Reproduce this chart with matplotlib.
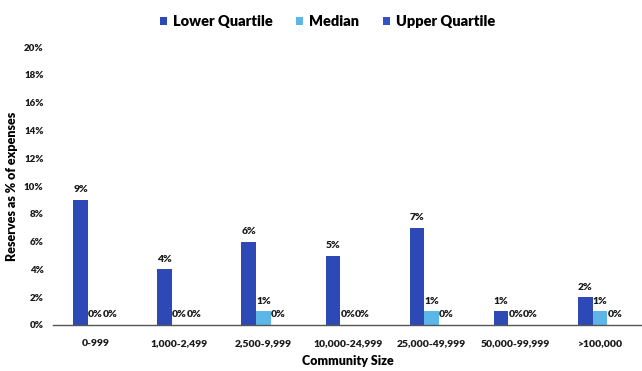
import matplotlib
matplotlib.use("Agg")
import matplotlib.pyplot as plt
import numpy as np

categories = ["0-999", "1,000-2,499", "2,500-9,999", "10,000-24,999",
              "25,000-49,999", "50,000-99,999", ">100,000"]
lower_quartile = [9, 4, 6, 5, 7, 1, 2]
median = [0, 0, 1, 0, 1, 0, 1]
upper_quartile = [0, 0, 0, 0, 0, 0, 0]
y_ticks = [0, 2, 4, 6, 8, 10, 12, 14, 16, 18, 20]

plt.rcParams['font.family'] = ['Lato', 'DejaVu Sans']

fig = plt.figure(figsize=(6.42, 3.71), dpi=100)
ax = fig.add_axes([0.083, 0.124, 0.917, 0.749])

x = np.arange(len(categories))
w = 0.175
colors = ["#2c49b6", "#5db6e8", "#3452c2"]
series = [("Lower Quartile", lower_quartile), ("Median", median), ("Upper Quartile", upper_quartile)]
for i, (name, vals) in enumerate(series):
    bars = ax.bar(x + (i - 1) * w, vals, width=w, color=colors[i], label=name)
    ax.bar_label(bars, labels=[f"{v}%" for v in vals], padding=4,
                 fontsize=7.5, fontweight='heavy', color='#1a1a1a')

ax.set_xlim(-0.5, len(categories) - 0.5)
ax.set_ylim(0, 20)
ax.set_yticks(y_ticks)
ax.set_yticklabels([f"{t}%" for t in y_ticks], fontsize=7, fontweight='heavy')
ax.set_xticks(x)
ax.set_xticklabels(categories, fontsize=7.5, fontweight='heavy')
ax.tick_params(axis='both', length=0, colors='#1a1a1a')
ax.tick_params(axis='y', pad=7)
ax.tick_params(axis='x', pad=10)
for s in ['top', 'right', 'left']:
    ax.spines[s].set_visible(False)
ax.spines['bottom'].set_color('#555555')
ax.spines['bottom'].set_linewidth(1.0)

ax.set_xlabel("Community Size", fontsize=9, fontweight='heavy', labelpad=5)
ax.set_ylabel("Reserves as % of expenses", fontsize=9, fontweight='heavy', labelpad=4)

fig.legend(loc='upper center', bbox_to_anchor=(0.51, 0.995), ncol=3, frameon=False,
           handlelength=0.5, handleheight=0.5, handletextpad=0.4,
           columnspacing=1.6, prop={'weight': 'heavy', 'size': 10.5})

fig.savefig("out.png", dpi=100, facecolor='white')
